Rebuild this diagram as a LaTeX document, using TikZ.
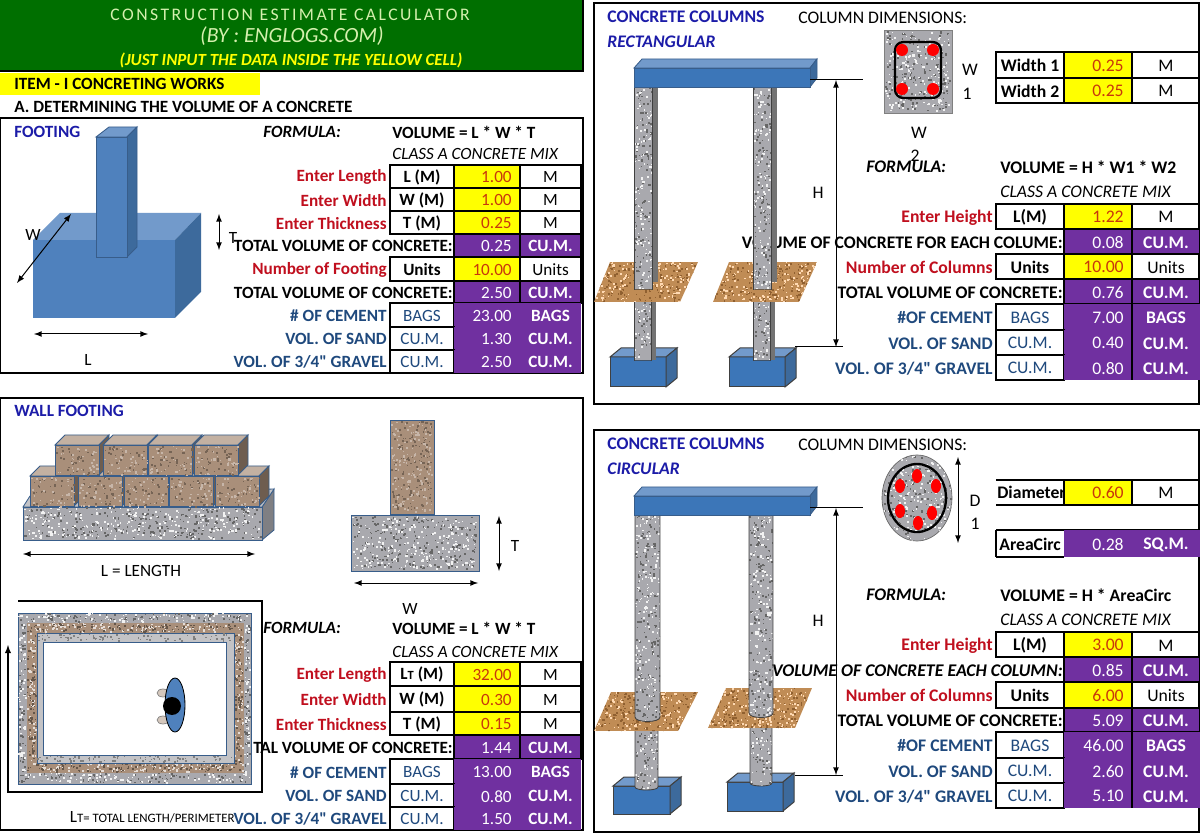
\documentclass[tikz,border=0pt]{standalone}
\usepackage{fontspec}
\setmainfont[Ligatures=TeXOff]{Carlito}
\newfontfamily\titlespaced[LetterSpace=14]{Carlito}
\usetikzlibrary{arrows}

\definecolor{sheetgreen}{HTML}{006F00}
\definecolor{titlepale}{HTML}{D5F0AE}
\definecolor{cellyellow}{HTML}{FFFF00}
\definecolor{cellpurple}{HTML}{7030A0}
\definecolor{valred}{HTML}{C8380C}
\definecolor{labred}{HTML}{C00F1E}
\definecolor{labblue}{HTML}{1F497D}
\definecolor{headblue}{HTML}{1C1CA8}
\definecolor{faceblue}{HTML}{4F81BD}
\definecolor{topblue}{HTML}{729ACB}
\definecolor{sideblue}{HTML}{3D6A9C}
\definecolor{edgeblue}{HTML}{385D8A}
\definecolor{beamblue}{HTML}{3C76B8}
\definecolor{concrete}{HTML}{A9A9AE}
\definecolor{brick}{HTML}{A98F7A}
\definecolor{soil}{HTML}{C08C55}

\newcommand{\tabfont}{\fontsize{10.3}{12}\selectfont}

\tikzset{
  panelbox/.style={draw=black,line width=1.3pt},
  cellbox/.style={draw=black,line width=.7pt},
  plaintext/.style={font=\tabfont,inner sep=0pt,yshift=-.5pt},
  headtext/.style={font=\tabfont\bfseries,inner sep=0pt,anchor=west,text=headblue},
  boldtext/.style={font=\tabfont\bfseries,inner sep=0pt,anchor=west},
  formtext/.style={font=\tabfont\bfseries\itshape,inner sep=0pt,anchor=west},
  mixtext/.style={font=\tabfont\itshape,inner sep=0pt,anchor=west},
  redlabel/.style={font=\tabfont\bfseries,inner sep=0pt,anchor=east,text=labred,yshift=-.5pt},
  bluelabel/.style={font=\tabfont\bfseries,inner sep=0pt,anchor=east,text=labblue,yshift=-.5pt},
  blacklabel/.style={font=\tabfont\bfseries,inner sep=0pt,anchor=east,yshift=-.5pt},
  dimarrow/.style={<->,>=latex,line width=.6pt},
  blockedge/.style={draw=edgeblue,line width=.5pt},
  footedge/.style={draw=black!75,line width=.6pt},
}

\newcommand{\speckle}[6]{%
  \foreach \i in {1,...,#5}{%
    \pgfmathsetmacro{\sx}{#1+rnd*(#3-#1)}%
    \pgfmathsetmacro{\sy}{#2+rnd*(#4-#2)}%
    \pgfmathsetmacro{\sr}{1+rnd*1.2}%
    \fill[#6] (\sx,\sy) rectangle ++(\sr,\sr);
  }}

\newcommand{\stonefill}[5]{%
  \speckle{#1}{#2}{#3}{#4}{#5}{black!60}%
  \speckle{#1}{#2}{#3}{#4}{#5}{white!90!gray}}

\newcommand{\inrow}[7]{%
  \node[redlabel] (#1lab) at ({\colA-3},{(#2+#3)/2}) {#4};
  \draw[cellbox] (\colA,#2) rectangle (\colB,#3) node[pos=.5,plaintext,font=\tabfont\bfseries] (#1unit) {#5};
  \draw[cellbox,fill=cellyellow] (\colB,#2) rectangle (\colC,#3);
  \node[plaintext,anchor=east,text=valred] (#1val) at ({\colC-8},{(#2+#3)/2}) {#6};
  \draw[cellbox] (\colC,#2) rectangle (\colD,#3) node[pos=.5,plaintext] (#1end) {#7};
}

\newcommand{\totrow}[6]{%
  \node[blacklabel] (#1lab) at ({\colB-1},{(#2+#3)/2}) {#4};
  \draw[cellbox,fill=cellpurple] (\colB,#2) rectangle (\colC,#3);
  \node[plaintext,anchor=east,text=white] (#1val) at ({\colC-8},{(#2+#3)/2}) {#5};
  \draw[cellbox,fill=cellpurple] (\colC,#2) rectangle (\colD,#3) node[pos=.5,plaintext,text=white,font=\tabfont\bfseries] (#1end) {#6};
}

\newcommand{\matrow}[7]{%
  \node[bluelabel] (#1lab) at ({\colA-3},{(#2+#3)/2}) {#4};
  \draw[cellbox] (\colA,#2) rectangle (\colB,#3) node[pos=.5,plaintext,text=labblue] (#1unit) {#5};
  \fill[cellpurple] (\colB,#2) rectangle (\colD,#3);
  \draw[draw=\matgrid,line width=.7pt] (\colC,#2) -- (\colC,#3);
  \node[plaintext,anchor=east,text=white] (#1val) at ({\colC-8},{(#2+#3)/2}) {#6};
  \node[plaintext,text=white,font=\tabfont\bfseries] (#1end) at ({(\colC+\colD)/2},{(#2+#3)/2}) {#7};
}

\newcommand{\footblock}[4]{%
  \fill[beamblue,footedge] (#1,#3) rectangle (#2,#4);
  \fill[topblue,footedge] (#1,#3) -- ({#1+11},{#3-9}) -- ({#2+11},{#3-9}) -- (#2,#3) -- cycle;
  \fill[sideblue,footedge] (#2,#3) -- ({#2+11},{#3-9}) -- ({#2+11},{#4-9}) -- (#2,#4) -- cycle;
}

\newcommand{\soilpatch}[6]{%
  \begin{scope}
    \clip (#1,#3) -- (#2,#3) -- (#5,#6) -- (#4,#6) -- cycle;
    \fill[soil] (#1,#6) rectangle (#5,#3);
    \speckle{#1}{#6}{#5}{#3}{200}{brown!75!black}
    \speckle{#1}{#6}{#5}{#3}{170}{orange!30!white}
  \end{scope}
}

\newcommand{\pillar}[5]{%
  \pgfmathsetmacro{\pbot}{#4+#5}%
  \pgfmathtruncatemacro{\ndots}{abs(#2-#1)*abs(#4-#3)/32}%
  \begin{scope}
    \clip (#1,#3) -- (#1,#4) .. controls (#1,\pbot) and (#2,\pbot) .. (#2,#4) -- (#2,#3) -- cycle;
    \fill[concrete] (#1,#3) rectangle (#2,\pbot);
    \stonefill{#1}{#3}{#2}{\pbot}{\ndots}
  \end{scope}
  \draw[black!75,line width=.5pt] (#1,#3) -- (#1,#4) .. controls (#1,\pbot) and (#2,\pbot) .. (#2,#4) -- (#2,#3);
}

\newcommand{\beamblock}[4]{%
  \fill[topblue,blockedge] (#1,#3) -- ({#1+8},{#3-9}) -- ({#2+7},{#3-9}) -- (#2,#3) -- cycle;
  \fill[sideblue,blockedge] (#2,#3) -- ({#2+7},{#3-9}) -- ({#2+7},{#4-9}) -- (#2,#4) -- cycle;
  \fill[beamblue,blockedge] (#1,#3) rectangle (#2,#4);
}

\newcommand{\brickblock}[2]{%
  \fill[brick!70!white,blockedge] (#1,#2) -- ({#1+10},{#2-10}) -- ({#1+54},{#2-10}) -- ({#1+44},#2) -- cycle;
  \fill[brick!65!black,blockedge] ({#1+44},#2) -- ({#1+54},{#2-10}) -- ({#1+54},{#2+20}) -- ({#1+44},{#2+30}) -- cycle;
  \fill[brick,blockedge] (#1,#2) rectangle ({#1+44},{#2+30});
  \speckle{#1+1}{#2+1}{#1+42}{#2+28}{35}{brick!70!black}
  \speckle{#1+1}{#2+1}{#1+42}{#2+28}{35}{brick!65!white}
}

\begin{document}
\begin{tikzpicture}[x=.6pt,y=-.6pt]

  \useasboundingbox (0,0) rectangle (1200,835);
  \fill[white] (0,0) rectangle (1200,835);
  \pgfmathsetseed{4711}

  % heading
  \draw[fill=sheetgreen,line width=.9pt] (-2,-2) rectangle (583,71);
  \node[inner sep=0pt,text=titlepale,font=\fontsize{10.6}{12}\selectfont\titlespaced] (headline) at (290,15) {CONSTRUCTION ESTIMATE CALCULATOR};
  \node[inner sep=0pt,text=titlepale,font=\fontsize{13}{14}\selectfont\itshape] (bysite) at (292,36) {(BY : ENGLOGS.COM)};
  \node[inner sep=0pt,text=cellyellow,font=\fontsize{10.2}{12}\selectfont\bfseries\itshape] (justinput) at (291,60) {(JUST INPUT THE DATA INSIDE THE YELLOW CELL)};

  \fill[cellyellow] (0,73) rectangle (260,95);
  \node[boldtext] (itemone) at (14,84) {ITEM - I CONCRETING WORKS};
  \node[boldtext] (parta) at (14,107) {A. DETERMINING THE VOLUME OF A CONCRETE};

  % footing panel
  \draw[panelbox] (0,118) rectangle (583,373);
  \node[headtext] (foothead) at (14,132) {FOOTING};
  \node[formtext] (footform) at (263,132) {FORMULA:};
  \node[boldtext] (footvol) at (392,132) {VOLUME = L * W * T};
  \node[mixtext] (footmix) at (392,154) {CLASS A CONCRETE MIX};

  \def\colA{390}\def\colB{454}\def\colC{520}\def\colD{581}\def\matgrid{cellpurple}
  \inrow{fa}{165}{188}{Enter Length}{L (M)}{1.00}{M}
  \inrow{fb}{188}{211}{Enter Width}{W (M)}{1.00}{M}
  \inrow{fc}{211}{234}{Enter Thickness}{T (M)}{0.25}{M}
  \totrow{fd}{234}{257}{TOTAL VOLUME OF CONCRETE:}{0.25}{CU.M.}
  \inrow{fe}{257}{281}{Number of Footing}{Units}{10.00}{Units}
  \totrow{ff}{281}{303}{TOTAL VOLUME OF CONCRETE:}{2.50}{CU.M.}
  \matrow{fg}{303}{327}{\# OF CEMENT}{BAGS}{23.00}{BAGS}
  \matrow{fh}{327}{350}{VOL. OF SAND}{CU.M.}{1.30}{CU.M.}
  \matrow{fi}{350}{373}{VOL. OF 3/4" GRAVEL}{CU.M.}{2.50}{CU.M.}

  \fill[faceblue] (33,240) rectangle (175,318);
  \fill[topblue] (33,240) -- (60,213) -- (201,213) -- (175,240) -- cycle;
  \fill[sideblue] (175,240) -- (201,213) -- (201,292) -- (175,318) -- cycle;
  \fill[topblue,blockedge] (96,137) -- (109,127) -- (137,127) -- (127,137) -- cycle;
  \fill[sideblue,blockedge] (127,137) -- (137,127) -- (137,247) -- (127,257) -- cycle;
  \fill[faceblue,blockedge] (96,137) rectangle (127,257);

  \coordinate (wfrom) at (17,283);
  \coordinate (wto) at (71,214);
  \coordinate (lfrom) at (34,334);
  \coordinate (lto) at (148,334);
  \coordinate (tfrom) at (219,214);
  \coordinate (tto) at (219,250);
  \draw[dimarrow] (wfrom) -- (wto);
  \draw[dimarrow] (lfrom) -- (lto);
  \draw[dimarrow] (tfrom) -- (tto);
  \node[plaintext] (wlabel) at (33,234) {W};
  \node[plaintext] (llabel) at (88,359) {L};
  \node[plaintext] (tlabel) at (233,237) {T};

  % wall footing panel
  \draw[panelbox] (0,398) rectangle (583,830);
  \node[headtext] (wallhead) at (14,411) {WALL FOOTING};
  \node[formtext] (wallform) at (263,628) {FORMULA:};
  \node[boldtext] (wallvol) at (392,628) {VOLUME = L * W * T};
  \node[mixtext] (wallmix) at (392,652) {CLASS A CONCRETE MIX};

  \inrow{wa}{662}{686}{Enter Length}{L{\fontsize{7.5}{8}\selectfont T} (M)}{32.00}{M}
  \inrow{wb}{686}{712}{Enter Width}{W (M)}{0.30}{M}
  \inrow{wc}{712}{735}{Enter Thickness}{T (M)}{0.15}{M}
  \totrow{wd}{735}{759}{TAL VOLUME OF CONCRETE:}{1.44}{CU.M.}
  \matrow{we}{759}{784}{\# OF CEMENT}{BAGS}{13.00}{BAGS}
  \matrow{wf}{784}{807}{VOL. OF SAND}{CU.M.}{0.80}{CU.M.}
  \matrow{wg}{807}{830}{VOL. OF 3/4" GRAVEL}{CU.M.}{1.50}{CU.M.}

  % wall elevation
  \fill[concrete!75!black,blockedge] (262,507) -- (274,489) -- (274,530) -- (262,540) -- cycle;
  \fill[concrete!70!white,blockedge] (23,507) -- (30,496) -- (274,489) -- (262,507) -- cycle;
  \fill[concrete,blockedge] (23,507) rectangle (262,540);
  \stonefill{23}{507}{260}{538}{260}
  \foreach \bx in {30,78,124,169,215}{
    \brickblock{\bx}{476}
  }
  \foreach \bx in {55,103,148,194}{
    \brickblock{\bx}{445}
  }
  \coordinate (lenfrom) at (23,554);
  \coordinate (lento) at (255,554);
  \draw[dimarrow] (lenfrom) -- (lento);
  \node[plaintext] (lenlabel) at (141,570) {L = LENGTH};

  % wall section
  \fill[brick,blockedge] (390,420) rectangle (434,514);
  \speckle{391}{421}{431}{511}{140}{brick!70!black}
  \speckle{391}{421}{431}{511}{140}{brick!65!white}
  \fill[concrete,blockedge] (351,515) rectangle (479,571);
  \stonefill{352}{516}{476}{568}{230}
  \coordinate (secfrom) at (354,583);
  \coordinate (secto) at (478,583);
  \coordinate (thkfrom) at (499,516);
  \coordinate (thkto) at (499,571);
  \draw[dimarrow] (secfrom) -- (secto);
  \draw[dimarrow] (thkfrom) -- (thkto);
  \node[plaintext] (seclabel) at (410,608) {W};
  \node[plaintext] (thklabel) at (515,545) {T};

  % wall plan
  \coordinate (perstart) at (18,601);
  \coordinate (perne) at (262,601);
  \coordinate (perse) at (262,792);
  \coordinate (persw) at (8,792);
  \coordinate (perend) at (8,645);
  \draw[->,>=latex,line width=.7pt] (perstart) -- (perne) -- (perse) -- (persw) -- (perend);
  \fill[concrete,blockedge] (18,613) rectangle (251,784);
  \stonefill{18}{613}{249}{621}{90}
  \stonefill{18}{773}{249}{782}{90}
  \stonefill{18}{623}{25}{773}{55}
  \stonefill{244}{623}{249}{773}{50}
  \fill[brick] (27,623) rectangle (244,773);
  \speckle{27}{623}{242}{631}{110}{white!70!brick}
  \speckle{27}{763}{242}{771}{110}{white!70!brick}
  \speckle{27}{633}{35}{763}{65}{white!70!brick}
  \speckle{234}{633}{242}{763}{65}{white!70!brick}
  \speckle{27}{623}{242}{631}{110}{brick!60!black}
  \speckle{27}{763}{242}{771}{110}{brick!60!black}
  \speckle{27}{633}{35}{763}{65}{brick!60!black}
  \speckle{234}{633}{242}{763}{65}{brick!60!black}
  \fill[concrete!70!white,blockedge] (37,633) rectangle (234,763);
  \speckle{37}{633}{232}{640}{80}{black!50}
  \speckle{37}{755}{232}{761}{80}{black!50}
  \fill[white,blockedge] (43,642) rectangle (226,755);
  \draw[fill=brick!50!white,draw=gray] (163,693) ellipse (6 and 4);
  \draw[fill=brick!50!white,draw=gray] (163,720) ellipse (6 and 4);
  \draw[fill=faceblue,line width=.5pt] (175,705) ellipse (10 and 27);
  \fill[black] (172,706) circle (9);
  \node[plaintext,anchor=east,font=\tabfont] (perimeter) at (235,816) {L{\fontsize{7.7}{8}\selectfont T= TOTAL LENGTH/PERIMETER}};

  % rectangular columns panel
  \def\tabfont{\fontsize{10.6}{12}\selectfont}
  \draw[panelbox] (594,3) rectangle (1199,404);
  \node[headtext] (recthead) at (607,17) {CONCRETE COLUMNS};
  \node[headtext,font=\tabfont\bfseries\itshape] (rectname) at (607,42) {RECTANGULAR};
  \node[plaintext,anchor=west] (rectdims) at (798,17) {COLUMN DIMENSIONS:};
  \node[formtext] (rectform) at (866,167) {FORMULA:};
  \node[boldtext] (rectvol) at (1000,167) {VOLUME = H * W1 * W2};
  \node[mixtext] (rectmix) at (1000,192) {CLASS A CONCRETE MIX};

  \def\colA{996}\def\colB{1064}\def\colC{1132}\def\colD{1200}\def\matgrid{black}
  \inrow{ra}{52}{78}{}{Width 1}{0.25}{M}
  \inrow{rb}{78}{103}{}{Width 2}{0.25}{M}
  \inrow{rc}{204}{229}{Enter Height}{L(M)}{1.22}{M}
  \totrow{rd}{229}{254}{VOLUME OF CONCRETE FOR EACH COLUME:}{0.08}{CU.M.}
  \inrow{re}{254}{279}{Number of Columns}{Units}{10.00}{Units}
  \totrow{rf}{279}{304}{TOTAL VOLUME OF CONCRETE:}{0.76}{CU.M.}
  \matrow{rg}{304}{330}{\#OF CEMENT}{BAGS}{7.00}{BAGS}
  \matrow{rh}{330}{355}{VOL. OF SAND}{CU.M.}{0.40}{CU.M.}
  \matrow{ri}{355}{380}{VOL. OF 3/4" GRAVEL}{CU.M.}{0.80}{CU.M.}

  \fill[concrete,draw=gray] (884,30) rectangle (952,113);
  \stonefill{885}{31}{949}{110}{170}
  \draw[line width=1.4pt,rounded corners=5pt] (895,42) rectangle (941,98);
  \fill[red] (902,50) circle (6);
  \fill[red] (933,50) circle (6);
  \fill[red] (902,89) circle (6);
  \fill[red] (933,89) circle (6);
  \node[plaintext] (rectwone) at (970,69) {W};
  \node[plaintext] (rectone) at (967,93) {1};
  \node[plaintext] (rectwtwo) at (919,132) {W};
  \node[plaintext] (recttwo) at (915,155) {2};

  \foreach \dx in {0,119}{
    \begin{scope}[shift={(\dx,0)}]
      \footblock{610}{666}{357}{387}
      \fill[black!55] (651,302) rectangle (656,360);
      \pillar{634}{651}{302}{360}{0}
      \soilpatch{594}{680}{302}{610}{698}{262}
      \fill[black!55] (652,87) rectangle (658,282);
      \pillar{634}{652}{87}{289}{0}
    \end{scope}
  }
  \beamblock{634}{810}{68}{87}
  \coordinate (rtopline) at (863,80);
  \coordinate (rtopbeam) at (810,80);
  \coordinate (rbotline) at (843,347);
  \coordinate (rbotfoot) at (795,347);
  \coordinate (rhtop) at (836,80);
  \coordinate (rhbot) at (836,347);
  \draw[line width=.6pt] (rtopbeam) -- (rtopline);
  \draw[line width=.6pt] (rbotfoot) -- (rbotline);
  \draw[dimarrow] (rhtop) -- (rhbot);
  \node[plaintext] (rectheight) at (818,192) {H};

  % circular columns panel
  \draw[panelbox] (594,430) rectangle (1199,832);
  \node[headtext] (circhead) at (607,444) {CONCRETE COLUMNS};
  \node[headtext,font=\tabfont\bfseries\itshape] (circname) at (607,469) {CIRCULAR};
  \node[plaintext,anchor=west] (circdims) at (798,444) {COLUMN DIMENSIONS:};
  \node[formtext] (circform) at (866,595) {FORMULA:};
  \node[boldtext] (circvol) at (1000,595) {VOLUME = H * AreaCirc};
  \node[mixtext] (circmix) at (1000,620) {CLASS A CONCRETE MIX};

  \node[plaintext,anchor=west,font=\tabfont\bfseries] (diamlabel) at (997,492) {Diameter};
  \fill[cellyellow] (1064,480) rectangle (1132,505);
  \draw[line width=.7pt] (996,480) -- (1200,480) (996,505) -- (1200,505);
  \draw[line width=.7pt] (1064,480) -- (1064,505) (1132,480) -- (1132,505);
  \node[plaintext,anchor=east,text=valred] (diamval) at (1124,492) {0.60};
  \node[plaintext] (diamunit) at (1166,492) {M};
  \draw[line width=.7pt] (996,530) -- (1200,530) (996,557) -- (1064,557) (996,530) -- (996,557);
  \fill[cellpurple] (1064,530) rectangle (1200,557);
  \node[plaintext,anchor=west,font=\tabfont\bfseries] (arealabel) at (999,544) {AreaCirc};
  \node[plaintext,anchor=east,text=white] (areaval) at (1124,544) {0.28};
  \node[plaintext,text=white,font=\tabfont\bfseries] (areaunit) at (1166,544) {SQ.M.};

  \inrow{ca}{632}{657}{Enter Height}{L(M)}{3.00}{M}
  \totrow{cb}{657}{682}{\fontsize{10.7}{12}\selectfont\itshape VOLUME OF CONCRETE EACH COLUMN:}{0.85}{CU.M.}
  \inrow{cc}{682}{708}{Number of Columns}{Units}{6.00}{Units}
  \totrow{cd}{708}{732}{TOTAL VOLUME OF CONCRETE:}{5.09}{CU.M.}
  \matrow{ce}{732}{758}{\#OF CEMENT}{BAGS}{46.00}{BAGS}
  \matrow{cf}{758}{783}{VOL. OF SAND}{CU.M.}{2.60}{CU.M.}
  \matrow{cg}{783}{808}{VOL. OF 3/4" GRAVEL}{CU.M.}{5.10}{CU.M.}

  \draw[fill=concrete,draw=black!60] (917,498) ellipse (35 and 43);
  \begin{scope}
    \clip (917,498) ellipse (35 and 43);
    \speckle{882}{455}{952}{541}{130}{black!60}
    \speckle{882}{455}{952}{541}{130}{white!90!gray}
  \end{scope}
  \draw[fill=concrete,line width=1.4pt] (917,498) ellipse (29 and 34);
  \begin{scope}
    \clip (917,498) ellipse (28 and 33);
    \stonefill{889}{465}{945}{531}{130}
  \end{scope}
  \fill[red] (917,476) ellipse (5 and 7);
  \fill[red] (900,486) ellipse (5 and 7);
  \fill[red] (936,486) ellipse (5 and 7);
  \fill[red] (900,511) ellipse (5 and 7);
  \fill[red] (932,513) ellipse (5 and 7);
  \fill[red] (918,523) ellipse (5 and 7);
  \coordinate (dtop) at (958,457);
  \coordinate (dbot) at (958,543);
  \draw[dimarrow] (dtop) -- (dbot);
  \node[plaintext] (dlabel) at (975,500) {D};
  \node[plaintext] (donelabel) at (975,523) {1};

  \footblock{613}{670}{786}{814}
  \pillar{635}{658}{731}{787}{4}
  \soilpatch{594}{678}{731}{611}{698}{692}
  \pillar{635}{660}{515}{717}{6}
  \footblock{727}{783}{782}{811}
  \pillar{750}{772}{728}{783}{4}
  \soilpatch{708}{795}{728}{726}{812}{688}
  \pillar{749}{773}{515}{713}{6}
  \beamblock{634}{810}{496}{515}
  \coordinate (ctopline) at (863,508);
  \coordinate (ctopbeam) at (810,508);
  \coordinate (cbotline) at (843,775);
  \coordinate (cbotfoot) at (795,775);
  \coordinate (chtop) at (836,508);
  \coordinate (chbot) at (836,775);
  \draw[line width=.6pt] (ctopbeam) -- (ctopline);
  \draw[line width=.6pt] (cbotfoot) -- (cbotline);
  \draw[dimarrow] (chtop) -- (chbot);
  \node[plaintext] (circheight) at (818,620) {H};

\end{tikzpicture}
\end{document}
